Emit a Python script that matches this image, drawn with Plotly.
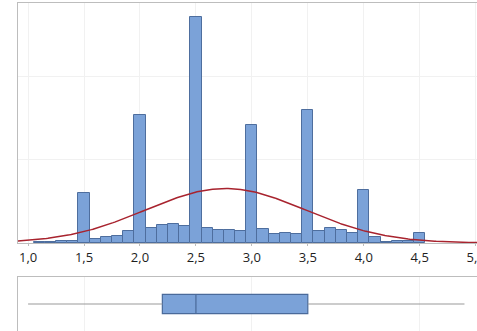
import numpy as np
import plotly.graph_objects as go

# Histogram bins (centers) and counts
bin_centers = [1.1, 1.2, 1.3, 1.4, 1.5, 1.6, 1.7, 1.8, 1.9, 2.0,
               2.1, 2.2, 2.3, 2.4, 2.5, 2.6, 2.7, 2.8, 2.9, 3.0,
               3.1, 3.2, 3.3, 3.4, 3.5, 3.6, 3.7, 3.8, 3.9, 4.0,
               4.1, 4.2, 4.3, 4.4, 4.5]
counts = [1, 1, 2, 3, 60, 5, 7, 8, 14, 154,
          18, 22, 23, 20, 272, 18, 16, 16, 14, 142,
          17, 11, 12, 11, 160, 14, 18, 16, 12, 64,
          7, 1, 3, 2, 12]
bin_width = 0.1

# Boxplot summary
box_min = 1.0
box_q1 = 2.2
box_median = 2.5
box_q3 = 3.5
box_max = 4.9

tick_vals = [1.0, 1.5, 2.0, 2.5, 3.0, 3.5, 4.0, 4.5, 5.0]

# Normal fit from the binned data
c = np.array(counts, dtype=float)
xc = np.array(bin_centers)
n_total = c.sum()
fit_mean = (c * xc).sum() / n_total
fit_sd = np.sqrt((c * (xc - fit_mean) ** 2).sum() / n_total)
curve_x = np.linspace(0.9, 5.05, 300)
curve_y = n_total * bin_width / (fit_sd * np.sqrt(2 * np.pi)) * np.exp(-0.5 * ((curve_x - fit_mean) / fit_sd) ** 2)

W, H = 477, 331
x_range = [0.91, 5.012]
frame = "#BDBDBD"
grid = "#F1F1F1"
bar_fill = "#7BA2D8"
bar_line = "#4E6E9E"

fig = go.Figure()
fig.add_trace(go.Bar(x=bin_centers, y=counts, width=bin_width,
                     marker=dict(color=bar_fill, line=dict(color=bar_line, width=1)),
                     xaxis="x", yaxis="y", showlegend=False, hoverinfo="skip"))
fig.add_trace(go.Scatter(x=curve_x, y=curve_y, mode="lines",
                         line=dict(color="#A8232E", width=1.5),
                         xaxis="x", yaxis="y", showlegend=False, hoverinfo="skip"))

# whiskers
fig.add_trace(go.Scatter(x=[box_min, box_q1, None, box_q3, box_max], y=[0, 0, None, 0, 0],
                         mode="lines", line=dict(color="#9A9A9A", width=1.2),
                         xaxis="x2", yaxis="y2", showlegend=False, hoverinfo="skip"))
fig.add_trace(go.Box(y=[0], q1=[box_q1], median=[box_median], q3=[box_q3],
                     lowerfence=[box_q1], upperfence=[box_q3], orientation="h",
                     width=0.36, whiskerwidth=0,
                     fillcolor=bar_fill, line=dict(color="#4A6A9A", width=1.2),
                     xaxis="x2", yaxis="y2", showlegend=False, hoverinfo="skip"))

top_lo = (H - 243) / H
top_hi = (H - 3) / H
box_hi = (H - 277) / H
x_left = 18 / W

fig.update_layout(
    width=W, height=H,
    margin=dict(l=0, r=0, t=0, b=0, autoexpand=False),
    paper_bgcolor="white", plot_bgcolor="white",
    separators=", ",
    bargap=0,
    font=dict(family="Open Sans, Noto Sans, sans-serif", size=13, color="#2A2A2A"),
    xaxis=dict(domain=[x_left, 1], range=x_range, tickvals=tick_vals, tickformat=".1f",
               showgrid=True, gridcolor=grid, gridwidth=1,
               showline=True, linecolor=frame, linewidth=1, mirror=True,
               ticks="outside", ticklen=2, tickcolor=frame,
               ticklabeloverflow="allow", automargin=False,
               tickfont=dict(size=13, color="#1E1E1E"), zeroline=False, anchor="y"),
    yaxis=dict(domain=[top_lo, top_hi], range=[0, 289], dtick=100,
               showgrid=True, gridcolor=grid, showticklabels=False,
               showline=True, linecolor=frame, linewidth=1, mirror=False,
               automargin=False, zeroline=False, anchor="x"),
    xaxis2=dict(domain=[x_left, 1], range=x_range, tickvals=[1.5, 3.0, 4.5],
                showgrid=True, gridcolor=grid, showticklabels=False,
                showline=True, linecolor=frame, linewidth=1, side="top",
                automargin=False, zeroline=False, anchor="y2"),
    yaxis2=dict(domain=[0, box_hi], range=[-0.5, 0.5], showgrid=False,
                showticklabels=False, showline=True, linecolor=frame, linewidth=1,
                automargin=False, zeroline=False, anchor="x2"),
)

fig.write_html("out.html", config={"displayModeBar": False},
               post_script="document.body.style.margin='0';document.body.style.overflow='hidden';")
